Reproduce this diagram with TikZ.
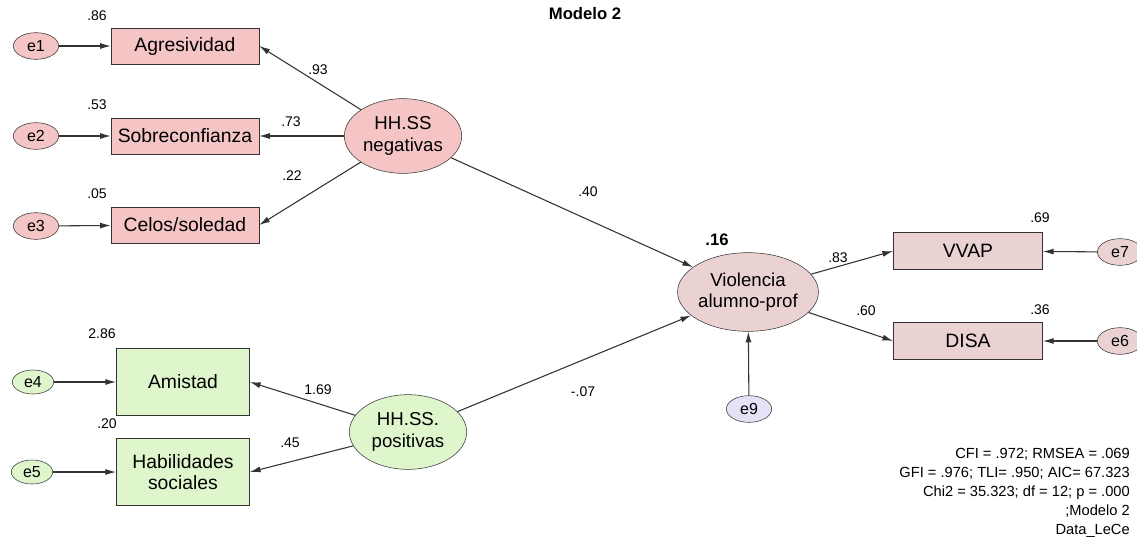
\documentclass[tikz,border=0pt]{standalone}
\usepackage{fontspec}
\setmainfont{Liberation Sans}
\usetikzlibrary{arrows.meta,shapes.geometric}

\definecolor{negfill}{HTML}{F5C4C4}
\definecolor{outfill}{HTML}{EBD2D2}
\definecolor{posfill}{HTML}{DFF6CD}
\definecolor{resfill}{HTML}{E6E2F6}
\definecolor{linegray}{HTML}{333333}

\begin{document}
\begin{tikzpicture}[
  x=0.75pt, y=-0.75pt,
  obs/.style={rectangle, draw=linegray, inner sep=0pt, font=\fontsize{14.5}{16}\selectfont},
  lat/.style={ellipse, draw=linegray, inner sep=0pt, minimum width=88pt, minimum height=56pt, align=center, font=\fontsize{14}{16}\selectfont},
  err/.style={ellipse, draw=linegray, inner sep=0pt, minimum width=34pt, minimum height=20pt, font=\fontsize{12}{14}\selectfont},
  coef/.style={font=\fontsize{10.5}{12}\selectfont, inner sep=0pt},
  path/.style={-{Latex[length=8pt,width=4.5pt]}, linegray, line width=0.8pt}
]
\useasboundingbox (0,0) rectangle (1137,544);

\node[font=\bfseries\fontsize{12.5}{14}\selectfont] (title) at (585,14) {Modelo 2};

% HH.SS negativas
\node[obs, fill=negfill, minimum width=111pt, minimum height=27pt] (agr) at (185,46) {Agresividad};
\node[obs, fill=negfill, minimum width=111pt, minimum height=27pt] (sob) at (185,136) {Sobreconfianza};
\node[obs, fill=negfill, minimum width=111pt, minimum height=27pt] (cel) at (185,225) {Celos/soledad};
\node[err, fill=negfill] (e1) at (36,46) {e1};
\node[err, fill=negfill] (e2) at (36,136) {e2};
\node[err, fill=negfill] (e3) at (36,226) {e3};
\node[lat, fill=negfill] (neg) at (403,136) {HH.SS\\negativas};

\node[coef] (r1) at (97,16) {.86};
\node[coef] (r2) at (97,105) {.53};
\node[coef] (r3) at (97,194) {.05};
\node[coef] (l1) at (318,70) {.93};
\node[coef] (l2) at (291,122) {.73};
\node[coef] (l3) at (292,176) {.22};

\draw[path] (e1) -- (agr);
\draw[path] (e2) -- (sob);
\draw[path] (e3) -- (cel);
\draw[path] (neg) -- (agr.east);
\draw[path] (neg) -- (sob);
\draw[path] (neg) -- (cel.east);

% HH.SS. positivas
\node[obs, fill=posfill, minimum width=100pt, minimum height=50pt] (ami) at (183,382) {Amistad};
\node[obs, fill=posfill, minimum width=100pt, minimum height=50pt, align=center] (hab) at (183,472) {Habilidades\\sociales};
\node[err, fill=posfill, minimum width=31pt, minimum height=18pt] (e4) at (33,382) {e4};
\node[err, fill=posfill, minimum width=31pt, minimum height=18pt] (e5) at (32,472) {e5};
\node[lat, fill=posfill] (pos) at (408,432) {HH.SS.\\positivas};

\node[coef] (r4) at (102,334) {2.86};
\node[coef] (r5) at (107,424) {.20};
\node[coef] (l4) at (318,390) {1.69};
\node[coef] (l5) at (290,443) {.45};

\draw[path] (e4) -- (ami);
\draw[path] (e5) -- (hab);
\draw[path] (pos) -- (ami.east);
\draw[path] (pos) -- (hab.east);

% Violencia alumno-prof
\node[lat, fill=outfill, minimum width=99pt, minimum height=59pt] (vio) at (748,292) {Violencia\\alumno-prof};
\node[obs, fill=outfill, minimum width=112pt, minimum height=28pt] (vvap) at (968,251) {VVAP};
\node[obs, fill=outfill, minimum width=112pt, minimum height=28pt] (disa) at (968,341) {DISA};
\node[err, fill=outfill] (e7) at (1120,252) {e7};
\node[err, fill=outfill] (e6) at (1120,341) {e6};
\node[err, fill=resfill] (e9) at (749,409) {e9};

\node[font=\bfseries\fontsize{12.5}{14}\selectfont, inner sep=0pt] (r9) at (717,240) {.16};
\node[coef] (r7) at (1040,218) {.69};
\node[coef] (r6) at (1040,310) {.36};
\node[coef] (l7) at (838,258) {.83};
\node[coef] (l6) at (866,311) {.60};
\node[coef] (b1) at (588,192) {.40};
\node[coef] (b2) at (583,392) {-.07};

\draw[path] (neg) -- (vio);
\draw[path] (pos) -- (vio);
\draw[path] (vio) -- (vvap.west);
\draw[path] (vio) -- (disa.west);
\draw[path] (e7) -- (vvap);
\draw[path] (e6) -- (disa);
\draw[path] (e9) -- (vio);

\node[anchor=north east, align=right, inner sep=0pt, font=\fontsize{11}{14.2}\selectfont] (fit) at (1130,448)
  {CFI = .972; RMSEA = .069\\GFI = .976; TLI= .950; AIC= 67.323\\Chi2 = 35.323; df = 12; p = .000\\;Modelo 2\\Data\_LeCe};
\end{tikzpicture}
\end{document}
